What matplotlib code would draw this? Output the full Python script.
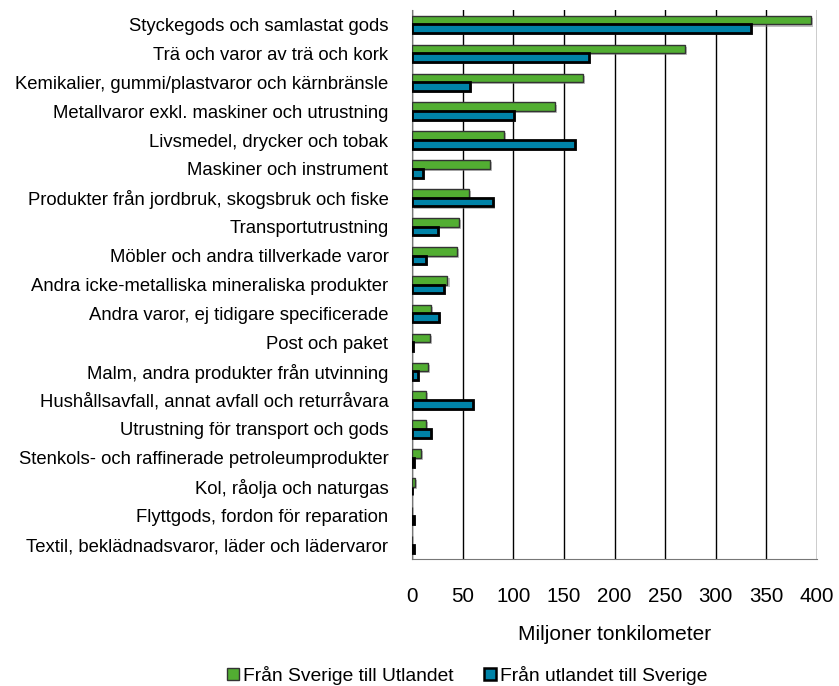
import numpy as np
import matplotlib
matplotlib.use('Agg')
from matplotlib import pyplot as plt
from matplotlib import patheffects as pe

plt.rcParams['font.family'] = ['Liberation Sans', 'DejaVu Sans']

categories = [
    "Styckegods och samlastat gods",
    "Trä och varor av trä och kork",
    "Kemikalier, gummi/plastvaror och kärnbränsle",
    "Metallvaror exkl. maskiner och utrustning",
    "Livsmedel, drycker och tobak",
    "Maskiner och instrument",
    "Produkter från jordbruk, skogsbruk och fiske",
    "Transportutrustning",
    "Möbler och andra tillverkade varor",
    "Andra icke-metalliska mineraliska produkter",
    "Andra varor, ej tidigare specificerade",
    "Post och paket",
    "Malm, andra produkter från utvinning",
    "Hushållsavfall, annat avfall och returråvara",
    "Utrustning för transport och gods",
    "Stenkols- och raffinerade petroleumprodukter",
    "Kol, råolja och naturgas",
    "Flyttgods, fordon för reparation",
    "Textil, beklädnadsvaror, läder och lädervaror",
]
fran_sverige = [394, 270, 169, 141, 91, 77, 56, 46, 44, 35, 19, 18, 16, 14, 14, 9, 3, 0.3, 0.3]
fran_utlandet = [335, 175, 57, 101, 161, 11, 80, 26, 14, 32, 27, 1, 5.5, 60, 19, 2, 0, 1.5, 1.5]

green = '#52ae32'
blue = '#0083a8'

fig = plt.figure(figsize=(8.39, 6.86), dpi=100)
ax = fig.add_axes([412/839, 1-559/686, (817-412)/839, (559-10)/686])

y = np.arange(len(categories))
h = 0.30
shadow = [pe.SimplePatchShadow(offset=(1.5, -1.5), shadow_rgbFace='0.5', alpha=0.5), pe.Normal()]
b1 = ax.barh(y - h/2, fran_sverige, height=h, color=green, edgecolor='#333333', linewidth=1.0,
             label='Från Sverige till Utlandet', zorder=3)
b2 = ax.barh(y + h/2, fran_utlandet, height=h, color=blue, edgecolor='black', linewidth=2.0,
             label='Från utlandet till Sverige', zorder=3)
for bars in (b1, b2):
    for p in bars:
        p.set_path_effects(shadow)

ax.set_ylim(len(categories) - 0.5, -0.5)
ax.set_xlim(0, 400)
ax.set_xticks(np.arange(0, 401, 50))
ax.set_yticks(y)
ax.set_yticklabels(categories, fontsize=13.3)
ax.tick_params(axis='y', length=0, pad=17)
ax.tick_params(axis='x', length=0, pad=20, labelsize=14.8)
ax.xaxis.grid(True, color='black', linewidth=1.0, zorder=0)
ax.set_axisbelow(True)
for s in ['top', 'right']:
    ax.spines[s].set_visible(False)
ax.spines['left'].set_color('#777777')
ax.spines['bottom'].set_color('#777777')
ax.set_xlabel('Miljoner tonkilometer', fontsize=15, labelpad=14)

handles = [plt.Rectangle((0, 0), 1, 1, facecolor=green, edgecolor='#333333', linewidth=1.0),
           plt.Rectangle((0, 0), 1, 1, facecolor=blue, edgecolor='black', linewidth=1.8)]
fig.legend(handles, ['Från Sverige till Utlandet', 'Från utlandet till Sverige'],
           loc='center', bbox_to_anchor=(0.557, 0.016), ncol=2, frameon=False, fontsize=13.9,
           handlelength=0.6, handleheight=0.6, handletextpad=0.2, columnspacing=1.6,
           borderpad=0.2)

fig.savefig('out.png', dpi=100)
